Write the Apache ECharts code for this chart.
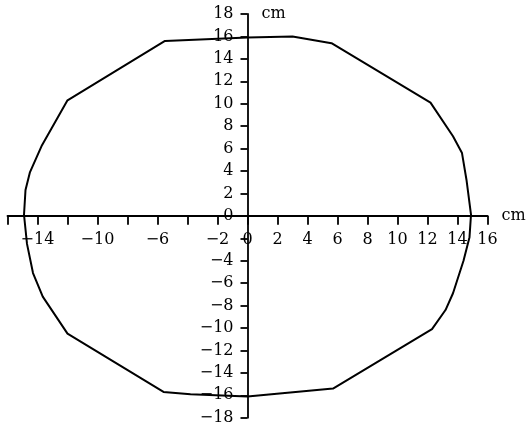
<!DOCTYPE html>
<html>
<head>
<meta charset="utf-8">
<script src="https://cdn.jsdelivr.net/npm/echarts@6/dist/echarts.min.js"></script>
<style>
html,body{margin:0;padding:0;background:#fff;}
#chart{width:527px;height:426px;}
</style>
</head>
<body>
<div id="chart"></div>
<script>
// Outline of the shape (cm), traced clockwise from the top
const shapeX = [0, 3.0, 5.6, 12.2, 13.7, 14.3, 14.6, 14.9, 14.8, 14.4, 13.7, 13.2, 12.3, 5.7, 0, -3.8, -5.6, -12.0, -13.65, -14.3, -14.7, -14.9, -14.8, -14.5, -13.7, -12.0, -5.5, 0];
const shapeY = [15.9, 16.0, 15.4, 10.1, 7.1, 5.6, 3.2, 0.1, -1.9, -4.0, -6.9, -8.4, -10.1, -15.4, -16.1, -15.9, -15.7, -10.5, -7.2, -5.1, -2.5, 0.1, 2.3, 3.9, 6.3, 10.3, 15.6, 15.9];

// Tick labels shown on each axis (y's −2 coincides with x's −2, shown once)
const xTickLabels = [-14, -10, -6, -2, 0, 2, 4, 6, 8, 10, 12, 14, 16];
const yTickLabels = [-18, -16, -14, -12, -10, -8, -6, -4, 0, 2, 4, 6, 8, 10, 12, 14, 16, 18];
const axisUnit = 'cm';

const points = shapeX.map((x, i) => [x, shapeY[i]]);
const fmt = v => (v < 0 ? '\u2212' + Math.abs(v) : String(v));
const FONT = 'DejaVu Serif';

const W = 527, H = 426;
const G = { left: 7.5, right: 39.5, top: 14, bottom: 8.3 };
// axes cross at the middle of the grid (x and y ranges are symmetric)
const yAxisOffset = -(W - G.left - G.right) / 2;
const xAxisOffset = -(H - G.top - G.bottom) / 2;

const chart = echarts.init(document.getElementById('chart'));
chart.setOption({
  animation: false,
  backgroundColor: '#fff',
  grid: Object.assign({ containLabel: false, outerBoundsMode: 'none' }, G),
  xAxis: {
    type: 'value', min: -16, max: 16, interval: 2,
    position: 'bottom', offset: xAxisOffset,
    name: axisUnit, nameLocation: 'end', nameGap: 14,
    nameTextStyle: { fontFamily: FONT, fontSize: 16, color: '#000', verticalAlign: 'middle', padding: [0, 0, 5, 0] },
    axisLine: { onZero: false, lineStyle: { color: '#000', width: 1.8 } },
    axisTick: { show: true, length: 9, lineStyle: { color: '#000', width: 1.8 } },
    axisLabel: {
      margin: 16, fontFamily: FONT, fontSize: 16, color: '#000',
      formatter: v => (xTickLabels.indexOf(v) >= 0 ? fmt(v) : '')
    },
    splitLine: { show: false }
  },
  yAxis: {
    type: 'value', min: -18, max: 18, interval: 2,
    position: 'left', offset: yAxisOffset,
    name: axisUnit, nameLocation: 'end', nameGap: 0,
    nameTextStyle: { fontFamily: FONT, fontSize: 16, color: '#000', align: 'left', verticalAlign: 'middle', padding: [0, 0, 0, 14] },
    axisLine: { onZero: false, lineStyle: { color: '#000', width: 1.8 } },
    axisTick: { show: true, length: 7, lineStyle: { color: '#000', width: 1.8 } },
    axisLabel: {
      margin: 14, fontFamily: FONT, fontSize: 16, color: '#000',
      formatter: v => (yTickLabels.indexOf(v) >= 0 ? fmt(v) : '')
    },
    splitLine: { show: false }
  },
  series: [{
    type: 'line',
    data: points,
    showSymbol: false,
    symbol: 'none',
    smooth: false,
    lineStyle: { color: '#000', width: 2 },
    z: 1
  }]
});
</script>
</body>
</html>
